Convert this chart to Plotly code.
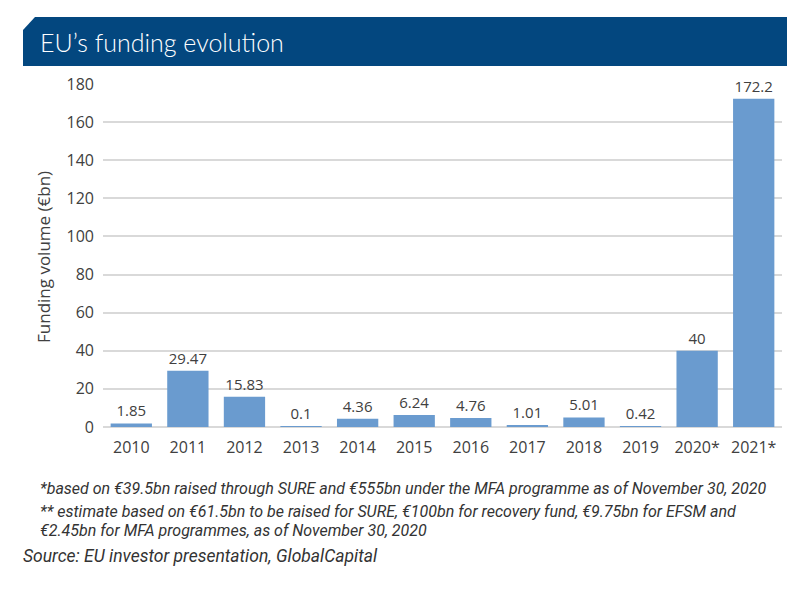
import plotly.graph_objects as go

years = ["2010", "2011", "2012", "2013", "2014", "2015", "2016", "2017", "2018", "2019", "2020*", "2021*"]
volumes = [1.85, 29.47, 15.83, 0.1, 4.36, 6.24, 4.76, 1.01, 5.01, 0.42, 40, 172.2]
labels = ["1.85", "29.47", "15.83", "0.1", "4.36", "6.24", "4.76", "1.01", "5.01", "0.42", "40", "172.2"]
y_ticks = [0, 20, 40, 60, 80, 100, 120, 140, 160, 180]

title_text = "EU\u2019s funding evolution"
note1 = "*based on \u20ac39.5bn raised through SURE and \u20ac555bn under the MFA programme as of November 30, 2020"
note2 = "** estimate based on \u20ac61.5bn to be raised for SURE, \u20ac100bn for recovery fund, \u20ac9.75bn for EFSM and"
note3 = "\u20ac2.45bn for MFA programmes, as of November 30, 2020"
source = "Source: EU investor presentation, GlobalCapital"

W, H = 800, 590
L, R, T, B = 103, 782, 84, 427  # plot area in pixels


def px(x):
    return (x - L) / (R - L)


def py(y):
    return (B - y) / (B - T)


BAR = "#6A9BCF"
TXT = "#404040"
FONT = "Open Sans"

fig = go.Figure(
    go.Bar(
        x=years,
        y=volumes,
        text=labels,
        textposition="outside",
        textfont=dict(family=FONT, size=15, color=TXT),
        marker=dict(color=BAR, line=dict(width=0)),
        cliponaxis=False,
        hoverinfo="skip",
    )
)

band = "M {},{} L {},{} L {},{} L {},{} L {},{} Z".format(
    px(35), py(17), px(787), py(17), px(787), py(66), px(23), py(66), px(23), py(30)
)

fig.update_layout(
    width=W,
    height=H,
    margin=dict(l=L, r=W - R, t=T, b=H - B),
    paper_bgcolor="white",
    plot_bgcolor="white",
    bargap=0.27,
    showlegend=False,
    font=dict(family=FONT, color=TXT),
    shapes=[
        dict(type="path", path=band, xref="paper", yref="paper",
             fillcolor="#03477F", line=dict(width=0), layer="above"),
    ],
    annotations=[
        dict(text=title_text, x=px(38), y=py(42), xref="paper", yref="paper",
             xanchor="left", yanchor="middle", showarrow=False,
             font=dict(family="Lato", size=25, color="white", weight=300)),
        dict(text="Funding volume (\u20acbn)", x=px(43), y=py(257), xref="paper", yref="paper",
             xanchor="center", yanchor="middle", textangle=-90, showarrow=False,
             font=dict(family=FONT, size=17, color=TXT)),
        dict(text=note1, x=px(38), y=py(488), xref="paper", yref="paper",
             xanchor="left", yanchor="middle", showarrow=False,
             font=dict(family="Roboto", size=16, color="#333333", style="italic")),
        dict(text=note2, x=px(38), y=py(511), xref="paper", yref="paper",
             xanchor="left", yanchor="middle", showarrow=False,
             font=dict(family="Roboto", size=16, color="#333333", style="italic")),
        dict(text=note3, x=px(38), y=py(530), xref="paper", yref="paper",
             xanchor="left", yanchor="middle", showarrow=False,
             font=dict(family="Roboto", size=16, color="#333333", style="italic")),
        dict(text=source, x=px(21), y=py(556), xref="paper", yref="paper",
             xanchor="left", yanchor="middle", showarrow=False,
             font=dict(family="Roboto", size=17.5, color="#333333", style="italic")),
    ],
)

fig.update_yaxes(
    range=[0, 180],
    tickvals=y_ticks,
    showgrid=True,
    gridcolor="#D9D9D9",
    gridwidth=2,
    zeroline=True,
    zerolinecolor="#D9D9D9",
    zerolinewidth=2,
    showline=False,
    ticks="",
    ticklabelstandoff=8,
    tickfont=dict(family=FONT, size=16, color=TXT),
    fixedrange=True,
)
fig.update_xaxes(
    showgrid=False,
    showline=False,
    ticks="",
    ticklabelstandoff=9,
    tickfont=dict(family=FONT, size=16, color=TXT),
    fixedrange=True,
)

fig.write_html("out.html")
